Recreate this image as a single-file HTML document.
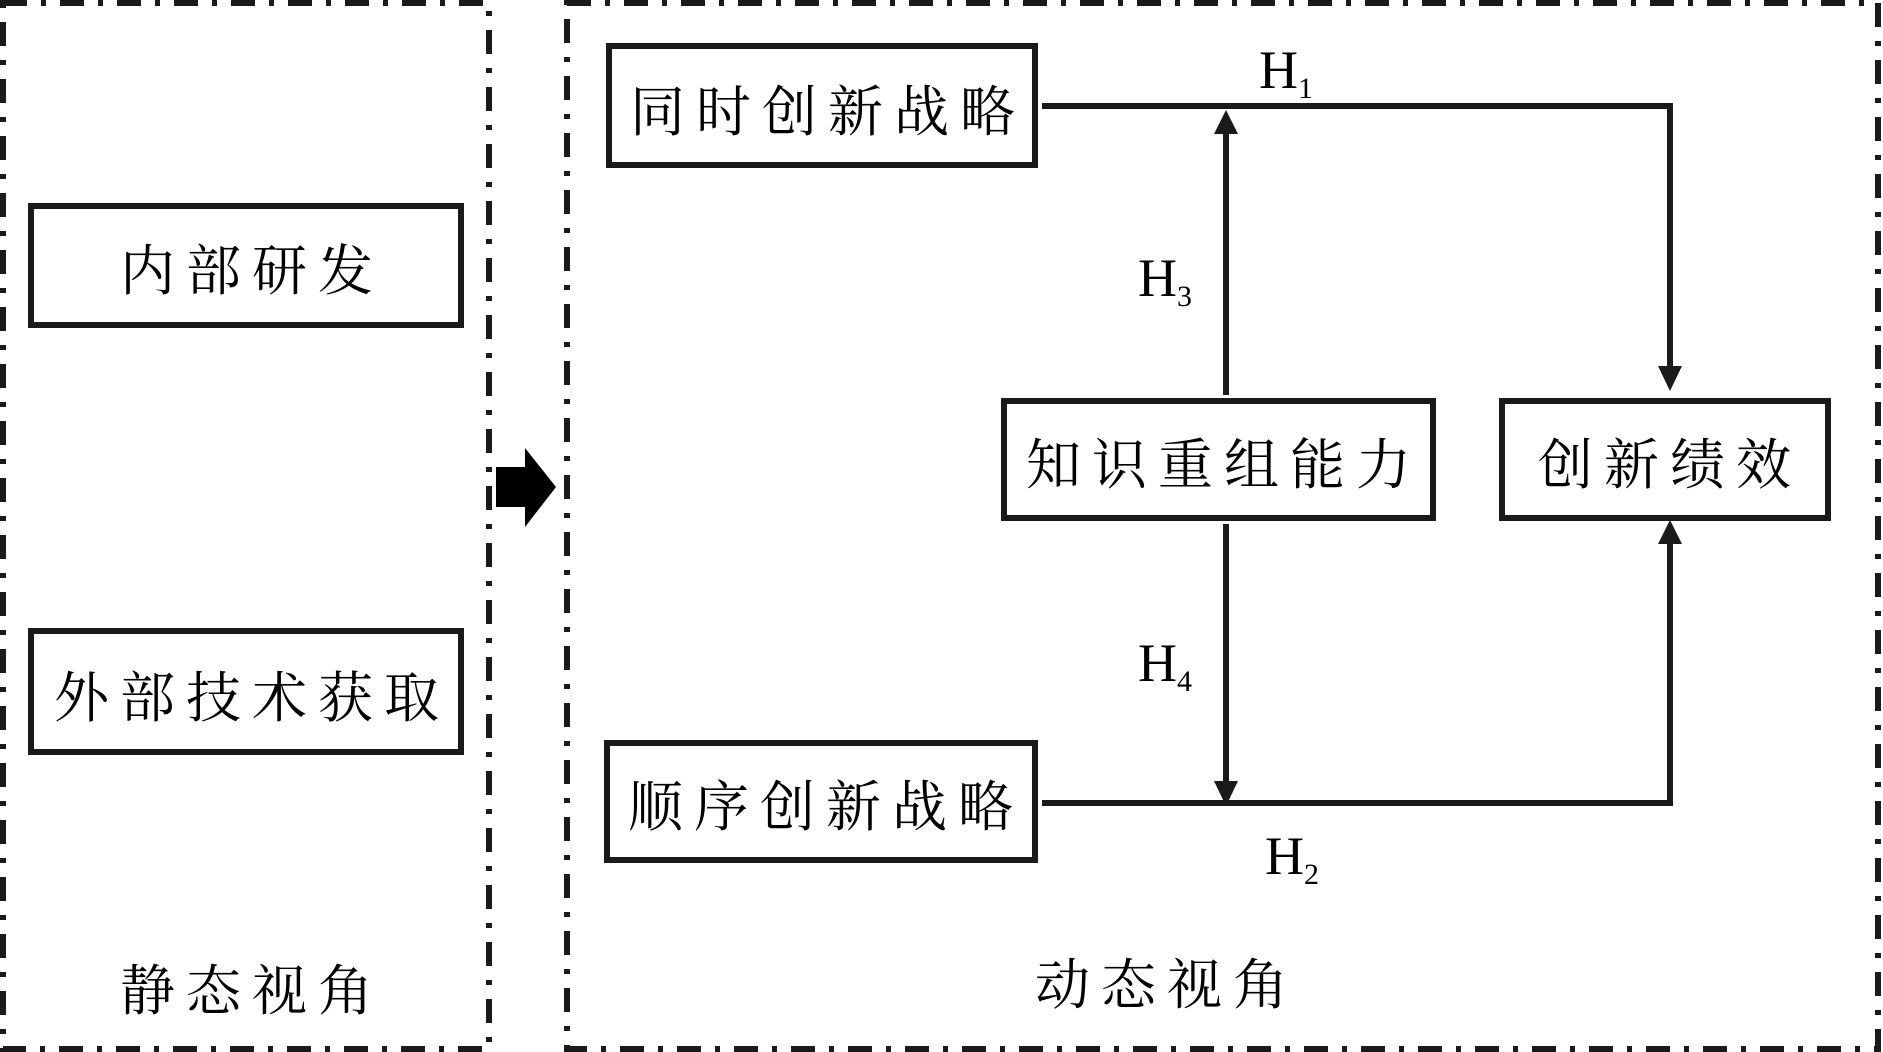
<!DOCTYPE html>
<html><head><meta charset="utf-8"><style>
html,body{margin:0;padding:0;background:#fff;}
svg{display:block;}
.cn{font-family:"Liberation Serif","Noto Serif CJK SC",serif;font-size:55px;letter-spacing:11px;fill:#000;}
.h{font-family:"Liberation Serif",serif;font-size:54px;fill:#000;}
.s{font-size:30px;}
</style></head><body>
<svg width="1883" height="1052" viewBox="0 0 1883 1052" xmlns="http://www.w3.org/2000/svg">
<g fill="none" stroke="#1a1a1a" stroke-width="6" stroke-dasharray="24 14 5 14">
<rect x="3" y="3" width="486" height="1046"/>
<rect x="567" y="3" width="1311" height="1046"/>
</g>
<polygon points="496,467 525,467 525,448 556,487 525,527 525,507 496,507" fill="#000"/>
<g fill="none" stroke="#1a1a1a" stroke-width="6">
<rect x="31" y="206" width="430" height="119"/>
<rect x="31" y="631" width="430" height="121"/>
<rect x="609" y="46" width="426" height="119"/>
<rect x="1004" y="401" width="429" height="117"/>
<rect x="1502" y="401" width="326" height="117"/>
<rect x="607" y="743" width="428" height="117"/>
<polyline points="1042,106 1670,106 1670,370"/>
<line x1="1226" y1="395" x2="1226" y2="130"/>
<line x1="1226" y1="524" x2="1226" y2="785"/>
<polyline points="1042,803 1670,803 1670,540"/>
</g>
<g fill="#1a1a1a">
<polygon points="1658,366 1682,366 1670,391"/>
<polygon points="1214,134 1238,134 1226,110"/>
<polygon points="1214,781 1238,781 1226,806"/>
<polygon points="1658,544 1682,544 1670,520"/>
</g>
<g class="cn" text-anchor="middle">
<text x="252" y="290">内部研发</text>
<text x="252" y="717">外部技术获取</text>
<text x="828" y="131">同时创新战略</text>
<text x="1224" y="484">知识重组能力</text>
<text x="1670" y="484">创新绩效</text>
<text x="826" y="826">顺序创新战略</text>
<text x="252" y="1010">静态视角</text>
<text x="1167" y="1004">动态视角</text>
</g>
<text class="h" x="1259" y="88">H<tspan class="s" dy="10">1</tspan></text>
<text class="h" x="1138" y="296">H<tspan class="s" dy="10">3</tspan></text>
<text class="h" x="1138" y="681">H<tspan class="s" dy="10">4</tspan></text>
<text class="h" x="1265" y="874">H<tspan class="s" dy="10">2</tspan></text>
</svg>
</body></html>
